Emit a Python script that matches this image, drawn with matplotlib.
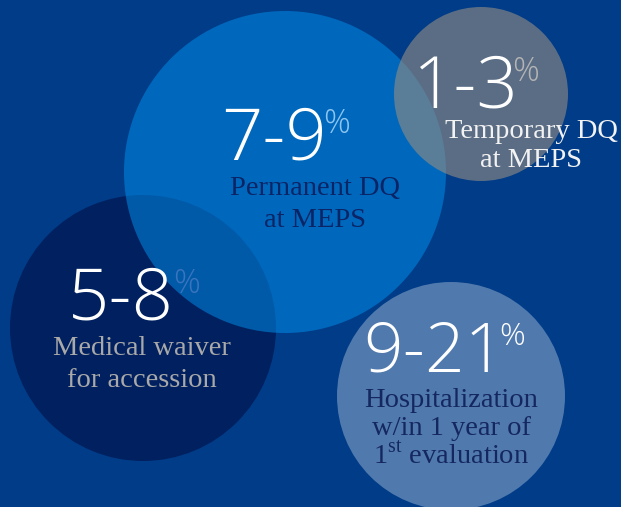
"""Bubble infographic: disqualification / waiver / hospitalization rates."""
import matplotlib
matplotlib.use("Agg")
import matplotlib.pyplot as plt
from matplotlib.patches import Circle

plt.rcParams["mathtext.fontset"] = "custom"
plt.rcParams["mathtext.rm"] = "Liberation Serif"

# data
ranges = ["7-9", "1-3", "5-8", "9-21"]
captions = [
    ["Permanent DQ", "at MEPS"],
    ["Temporary DQ", "at MEPS"],
    ["Medical waiver", "for accession"],
    ["Hospitalization", "w/in 1 year of", r"1$^{\mathrm{st}}$ evaluation"],
]

# layout (pixel coords, y down)
W, H = 621, 507
BG = "#003c87"
NUM_FONT = ["Open Sans", "DejaVu Sans"]
CAP_FONT = ["Liberation Serif", "DejaVu Serif"]
bubbles = {
    "5-8": dict(c=(143, 328), r=133, fc="#00205f", a=1.0, z=1),
    "7-9": dict(c=(285, 172), r=161, fc="#0094f2", a=0.5, z=2),
    "1-3": dict(c=(481, 94), r=87, fc="#8e8a85", a=0.64, z=3),
    "9-21": dict(c=(451, 396), r=114, fc="#5079ae", a=1.0, z=2),
}
# number left x / baseline / size, % offset and colour, caption centre x / baselines / colour
texts = {
    "7-9": dict(nx=221, ny=160, ns=52, dx=-4, pc="#8ec5f0", cx=315, cy=[195, 227], cc="#0b2466"),
    "1-3": dict(nx=413, ny=108, ns=52, dx=-7, pc="#b4b4b4", cx=531, cy=[138, 167], cc="#f2f2f2"),
    "5-8": dict(nx=68, ny=320, ns=52, dx=-1, pc="#3a74be", cx=142, cy=[355, 387], cc="#a9a9a9"),
    "9-21": dict(nx=363, ny=372, ns=50, dx=-5, pc="#ffffff", cx=451, cy=[407, 435, 463], cc="#14275f"),
}

fig = plt.figure(figsize=(W / 100, H / 100), dpi=100)
fig.patch.set_facecolor(BG)
ax = fig.add_axes([0, 0, 1, 1])
ax.set_xlim(0, W); ax.set_ylim(H, 0)
ax.set_aspect("equal"); ax.axis("off")
ax.set_facecolor(BG)

for name, b in bubbles.items():
    ax.add_patch(Circle(b["c"], b["r"], facecolor=b["fc"], alpha=b["a"],
                        edgecolor="none", zorder=b["z"]))

renderer = fig.canvas.get_renderer()
for name, lines in zip(ranges, captions):
    t = texts[name]
    num = ax.text(t["nx"], t["ny"], name, fontsize=t["ns"], family=NUM_FONT,
                  fontweight=300, color="white", ha="left", va="baseline", zorder=10)
    bb = num.get_window_extent(renderer).transformed(ax.transData.inverted())
    x1 = max(bb.x0, bb.x1)
    top = t["ny"] - t["ns"] * 100 / 72 * 0.714
    ax.text(x1 + t["dx"], top - 1, "%", fontsize=t["ns"] * 0.46, family=NUM_FONT,
            fontweight=300, color=t["pc"], ha="left", va="top", zorder=10)
    for ln, y in zip(lines, t["cy"]):
        ax.text(t["cx"], y, ln, fontsize=20.5, family=CAP_FONT, color=t["cc"],
                ha="center", va="baseline", zorder=10)

fig.savefig("out.png", dpi=100, facecolor=BG)
